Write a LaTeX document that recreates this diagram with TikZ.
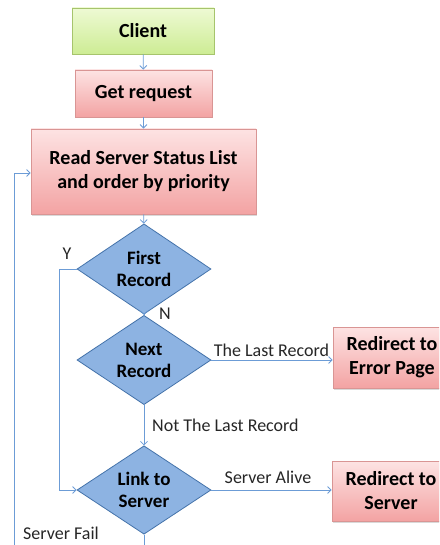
\documentclass[tikz,border=0pt]{standalone}
\usepackage{fontspec}
\setmainfont{Carlito}
\usetikzlibrary{shapes.geometric,arrows.meta,shadows}

\definecolor{greentop}{HTML}{EEFAD4}
\definecolor{greenbot}{HTML}{CDEC94}
\definecolor{greenedge}{HTML}{A6C46C}
\definecolor{pinktop}{HTML}{FDE3E3}
\definecolor{pinkbot}{HTML}{F3A3A3}
\definecolor{pinkedge}{HTML}{D99594}
\definecolor{decfill}{HTML}{8DB3E2}
\definecolor{decedge}{HTML}{4473AA}
\definecolor{flow}{HTML}{6C9CD6}

\tikzset{
  x=1pt, y=-1pt,
  boxtext/.style={font=\fontsize{20}{24}\selectfont\bfseries, align=center, text=black},
  dectext/.style={font=\fontsize{19}{22}\selectfont\bfseries, align=center, text=black},
  startbox/.style={boxtext, rectangle, draw=greenedge, line width=0.8pt,
    top color=greentop, bottom color=greenbot,
    drop shadow={opacity=0.3, shadow xshift=1.2pt, shadow yshift=-1.5pt}},
  procbox/.style={boxtext, rectangle, draw=pinkedge, line width=0.8pt,
    top color=pinktop, bottom color=pinkbot,
    drop shadow={opacity=0.3, shadow xshift=1.2pt, shadow yshift=-1.5pt}},
  decision/.style={dectext, diamond, draw=decedge, line width=0.8pt, fill=decfill,
    inner sep=0pt, minimum width=134pt, minimum height=74pt},
  flowline/.style={draw=flow, line width=0.8pt},
  flowarrow/.style={flowline, -{Straight Barb[length=3.5pt,width=7pt]}},
  edgetext/.style={font=\fontsize{18}{21}\selectfont, text=black!85, inner sep=0pt}
}

\begin{document}
\begin{tikzpicture}
\useasboundingbox (0,0) rectangle (439,545);
\clip (0,0) rectangle (439,545);

% process steps
\node[startbox, minimum width=142pt, minimum height=46pt] (client) at (143,31) {Client};
\node[procbox, minimum width=137pt, minimum height=47pt] (getreq) at (143.5,93.5) {Get request};
\node[procbox, minimum width=225pt, minimum height=85pt] (readlist) at (143.5,171.5)
  {Read Server Status List\\and order by priority};

% decisions
\node[decision] (first) at (144,269) {First\\Record};
\node[decision] (next) at (144,360) {Next\\Record};
\node[decision] (link) at (144,490) {Link to\\Server};

% outcomes
\node[procbox, minimum width=118pt, minimum height=61pt] (errpage) at (392,357.5) {Redirect to\\Error Page};
\node[procbox, minimum width=118pt, minimum height=60pt] (server) at (391,491) {Redirect to\\Server};

% loop-back points
\coordinate (ybend) at (59,269);
\coordinate (failend) at (144,552);
\coordinate (loopbot) at (14,552);
\coordinate (looptop) at (14,173);

% connectors
\draw[flowarrow] (client) -- (getreq);
\draw[flowarrow] (getreq) -- (readlist);
\draw[flowarrow] (readlist) -- (first);
\draw[flowarrow] (first) -- (next);
\draw[flowarrow] (next.east) -- (errpage.west |- next.east);
\draw[flowarrow] (next) -- (link);
\draw[flowarrow] (link.east) -- (server.west |- link.east);
\draw[flowarrow] (first.west) -- (ybend) |- (link.west);
\draw[flowline] (link.south) -- (failend);
\draw[flowarrow] (loopbot) -- (looptop) -- (readlist.west |- looptop);

% connector labels
\node[edgetext] (ylab) at (67,254) {Y};
\node[edgetext] (nlab) at (165,314) {N};
\node[edgetext] (lastlab) at (271.5,350) {The Last Record};
\node[edgetext, anchor=west] (notlastlab) at (152,425) {Not The Last Record};
\node[edgetext] (alivelab) at (268,477) {Server Alive};
\node[edgetext] (faillab) at (61,533) {Server Fail};
\end{tikzpicture}
\end{document}
